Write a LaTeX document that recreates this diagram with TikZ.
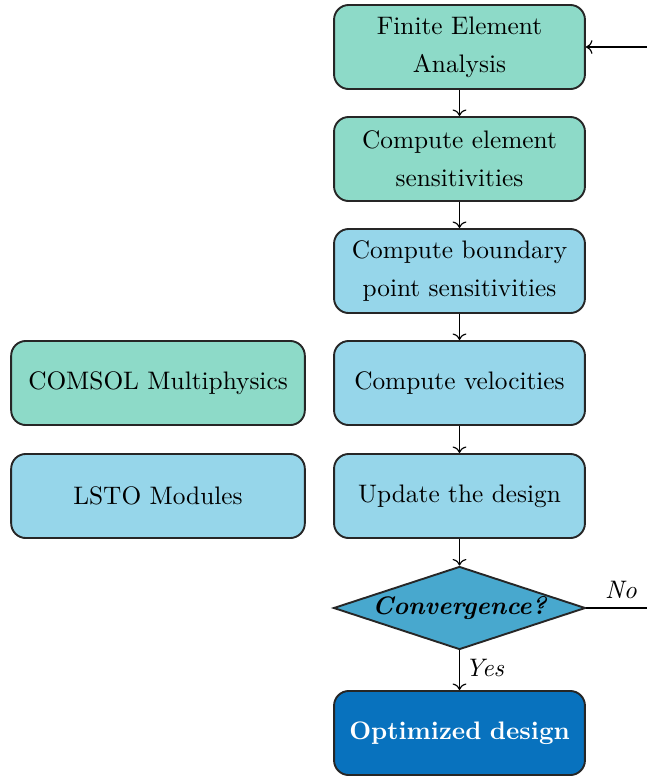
\documentclass[tikz,border=0pt]{standalone}
\usepackage{fontspec}
\usetikzlibrary{shapes.geometric,arrows.meta}
\definecolor{boxgreen}{RGB}{141,218,200}
\definecolor{boxblue}{RGB}{150,214,234}
\definecolor{diablue}{RGB}{72,168,206}
\definecolor{darkblue}{RGB}{8,114,190}
\tikzset{
  stepbox/.style={draw=black!85, line width=0.75pt, rounded corners=5.8pt,
    minimum width=99.1pt, minimum height=33.2pt, inner sep=0pt,
    text width=96pt, align=center},
  sidebox/.style={stepbox, minimum width=116pt, text width=110pt},
  decision/.style={draw=black!85, line width=0.75pt, shape=diamond, shape aspect=3,
    inner sep=0pt, minimum width=99.5pt, minimum height=32.8pt, fill=diablue,
    font=\bfseries\itshape},
  flow/.style={->, line width=0.45pt}
}
\begin{document}
\begin{tikzpicture}[x=0.395pt, y=-0.395pt]
\useasboundingbox (0,0) rectangle (647,776);
\node[stepbox, fill=boxgreen] (fea) at (459.5,47) {Finite Element\\[3pt]Analysis};
\node[stepbox, fill=boxgreen] (ces) at (459.5,159) {Compute element\\[3pt]sensitivities};
\node[stepbox, fill=boxblue] (cbp) at (459.5,271) {Compute boundary\\[3pt]point sensitivities};
\node[stepbox, fill=boxblue] (cv) at (459.5,383) {Compute velocities};
\node[stepbox, fill=boxblue] (ud) at (459.5,496) {Update the design};
\node[decision] (conv) at (459.5,608) {Convergence?};
\node[stepbox, fill=darkblue, text=white, font=\bfseries] (opt) at (459.5,733) {Optimized design};
\node[sidebox, fill=boxgreen] (comsol) at (158,383) {COMSOL Multiphysics};
\node[sidebox, fill=boxblue] (lsto) at (158,496) {LSTO Modules};
\coordinate (c1) at (680,608);
\coordinate (c2) at (680,47);
\draw[flow] (fea) -- (ces);
\draw[flow] (ces) -- (cbp);
\draw[flow] (cbp) -- (cv);
\draw[flow] (cv) -- (ud);
\draw[flow] (ud) -- (conv);
\draw[flow] (conv) -- node[right, pos=0.45, font=\itshape, inner sep=2pt] {Yes} (opt);
\draw[flow] (conv.east) -- node[above, pos=0.37, font=\itshape] {No} (c1) -- (c2) -- (fea.east);
\end{tikzpicture}
\end{document}
